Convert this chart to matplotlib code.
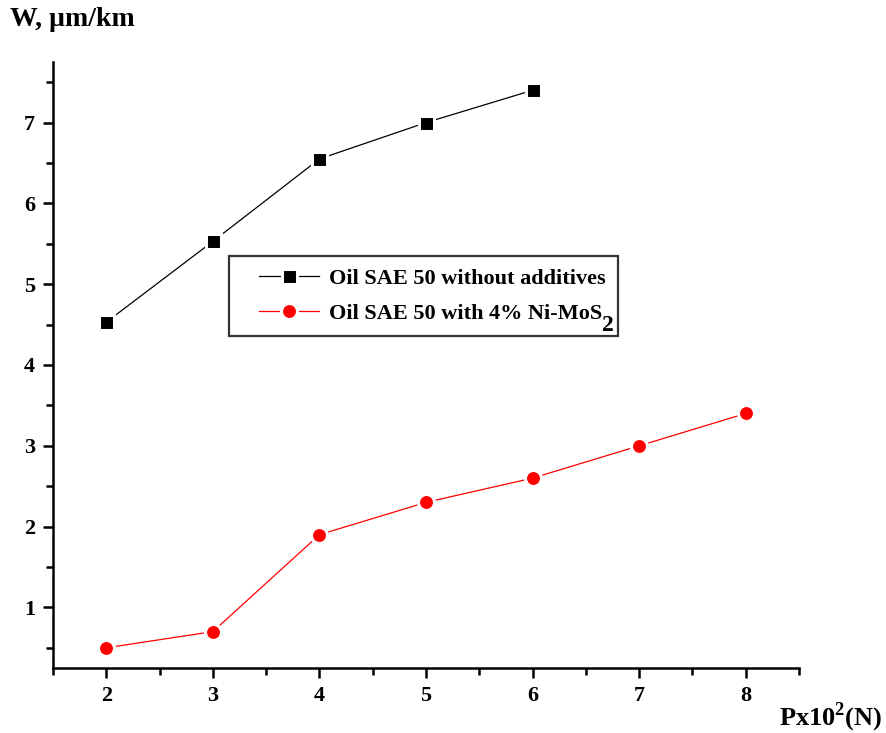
import matplotlib
matplotlib.use('Agg')
import matplotlib.pyplot as plt
from matplotlib.ticker import MultipleLocator
from matplotlib.legend_handler import HandlerLine2D

plt.rcParams['font.family'] = ['Liberation Serif', 'DejaVu Serif']
plt.rcParams['font.weight'] = 'bold'
plt.rcParams['mathtext.fontset'] = 'custom'
plt.rcParams['mathtext.rm'] = 'Liberation Serif:bold'
plt.rcParams['mathtext.bf'] = 'Liberation Serif:bold'

load_base = [2, 3, 4, 5, 6]
wear_base = [4.53, 5.53, 6.55, 7.0, 7.4]
load_nimos = [2, 3, 4, 5, 6, 7, 8]
wear_nimos = [0.5, 0.7, 1.9, 2.3, 2.6, 3.0, 3.4]

fig = plt.figure(figsize=(8.87, 7.33), dpi=100)
ax = fig.add_axes([53/887, 1 - 668/733, (799 - 53)/887, (668 - 62)/733])

# white marker edge gives the small gap between line and marker
l1, = ax.plot(load_base, wear_base, color='black', lw=0.9, marker='s', ms=10.8,
              mec='white', mew=2.2, mfc='black', label='Oil SAE 50 without additives')
l2, = ax.plot(load_nimos, wear_nimos, color='red', lw=0.9, marker='o', ms=11.5,
              mec='white', mew=2.2, mfc='red', label='Oil SAE 50 with 4% Ni-MoS')

ax.set_xlim(1.5, 8.5)
ax.set_ylim(0.25, 7.75)
ax.xaxis.set_major_locator(MultipleLocator(1))
ax.xaxis.set_minor_locator(MultipleLocator(0.5))
ax.yaxis.set_minor_locator(MultipleLocator(0.5))
ax.set_yticks([1, 2, 3, 4, 5, 6, 7])

for s in ['top', 'right']:
    ax.spines[s].set_visible(False)
for s in ['left', 'bottom']:
    ax.spines[s].set_linewidth(1.8)
ax.tick_params(which='major', length=7, width=1.8, labelsize=16, pad=6)
ax.tick_params(which='minor', length=5, width=1.8)
for lab in ax.get_xticklabels() + ax.get_yticklabels():
    lab.set_fontweight('bold')

hmap = {l1: HandlerLine2D(xpad=0.8, numpoints=1), l2: HandlerLine2D(xpad=0.8, numpoints=1)}
leg = ax.legend(loc='upper left', bbox_to_anchor=(0.236, 0.680), fancybox=False,
                edgecolor='#333333', framealpha=1, prop={'size': 16, 'weight': 'bold'},
                handlelength=3.5, handletextpad=0.45, borderpad=0.55, labelspacing=0.65,
                borderaxespad=0, handler_map=hmap)
leg.get_frame().set_linewidth(1.6)
# full-size lowered subscript after MoS
ax.annotate('2', xy=(1.0, -0.1), xycoords=leg.get_texts()[1], ha='left', va='center',
            fontsize=17, fontweight='bold', zorder=10)

fig.text(10/887, 1 - 20/733, 'W, µm/km', fontsize=20, fontweight='bold', va='center', ha='left')
fig.text(882/887, 1 - 717/733, 'Px10$^\\mathbf{2}$(N)', fontsize=19, fontweight='bold', va='center', ha='right')

fig.savefig('out.png', dpi=100)
